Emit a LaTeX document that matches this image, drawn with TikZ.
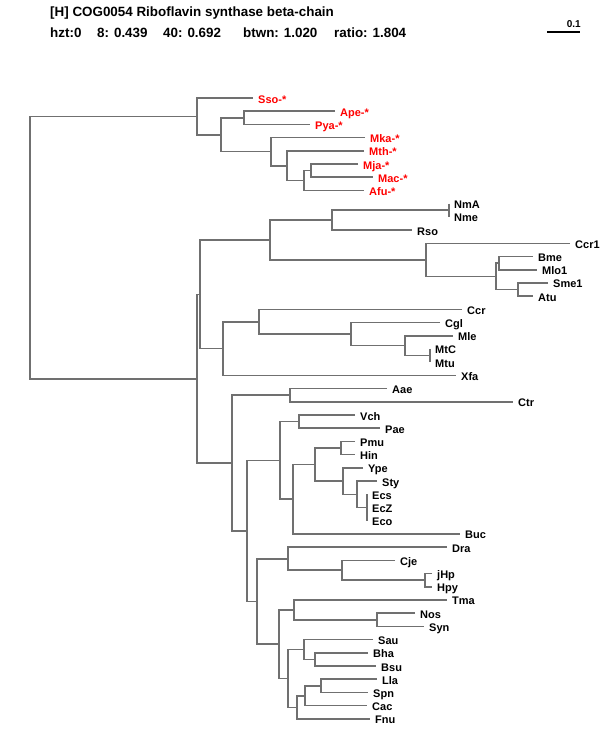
\documentclass[tikz,border=0pt]{standalone}
\usepackage{fontspec}
\setmainfont{Liberation Sans}
\usepackage{tikz}
\usepackage{xcolor}
\definecolor{treegray}{RGB}{112,112,112}
\definecolor{archred}{RGB}{255,0,0}

\begin{document}
\begin{tikzpicture}[
            x=1pt, y=-1pt,
            branch/.style={draw=treegray, line width=1.6pt},
            leaf/.style={anchor=base west, inner sep=0pt, xshift=5pt, yshift=-5pt,
                font=\fontsize{11}{12}\selectfont\bfseries},
            arch/.style={text=archred},
            head/.style={anchor=west, inner sep=0pt, font=\fontsize{13.4}{15}\selectfont\bfseries},
        ]
            \useasboundingbox (0,0) rectangle (600,750);

            % heading and scale bar
            \node[head] (title) at (50,13) {[H] COG0054 Riboflavin synthase beta-chain};
            \node[head] (hzt) at (50,33) {hzt:0};
            \node[head] (sc8) at (97,33) {8: 0.439};
            \node[head] (sc40) at (163,33) {40: 0.692};
            \node[head] (btwn) at (243,33) {btwn: 1.020};
            \node[head] (ratio) at (334,33) {ratio: 1.804};
            \coordinate (barL) at (547,32);
            \coordinate (barR) at (580,32);
            \draw[line width=1.2pt] (barL) -- (barR);
            \node[inner sep=0pt, anchor=south east, font=\fontsize{10}{12}\selectfont\bfseries] (barlab) at (581,28) {0.1};

            \begin{scope}[shift={(0,98)}, y=-13.21pt]
            % leaves (x = branch end, y = row)
            \coordinate (Sso) at (253,0);  \node[leaf,arch] (lSso) at (Sso) {Sso-*};
            \coordinate (Ape) at (335,1);  \node[leaf,arch] (lApe) at (Ape) {Ape-*};
            \coordinate (Pya) at (310,2);  \node[leaf,arch] (lPya) at (Pya) {Pya-*};
            \coordinate (Mka) at (365,3);  \node[leaf,arch] (lMka) at (Mka) {Mka-*};
            \coordinate (Mth) at (364,4);  \node[leaf,arch] (lMth) at (Mth) {Mth-*};
            \coordinate (Mja) at (358,5);  \node[leaf,arch] (lMja) at (Mja) {Mja-*};
            \coordinate (Mac) at (373,6);  \node[leaf,arch] (lMac) at (Mac) {Mac-*};
            \coordinate (Afu) at (364,7);  \node[leaf,arch] (lAfu) at (Afu) {Afu-*};
            \coordinate (NmA) at (449,8);  \node[leaf] (lNmA) at (NmA) {NmA};
            \coordinate (Nme) at (449,9);  \node[leaf] (lNme) at (Nme) {Nme};
            \coordinate (Rso) at (412,10); \node[leaf] (lRso) at (Rso) {Rso};
            \coordinate (Ccr1) at (570,11); \node[leaf] (lCcr1) at (Ccr1) {Ccr1};
            \coordinate (Bme) at (533,12); \node[leaf] (lBme) at (Bme) {Bme};
            \coordinate (Mlo1) at (537,13); \node[leaf] (lMlo1) at (Mlo1) {Mlo1};
            \coordinate (Sme1) at (548,14); \node[leaf] (lSme1) at (Sme1) {Sme1};
            \coordinate (Atu) at (533,15); \node[leaf] (lAtu) at (Atu) {Atu};
            \coordinate (Ccr) at (462,16); \node[leaf] (lCcr) at (Ccr) {Ccr};
            \coordinate (Cgl) at (440,17); \node[leaf] (lCgl) at (Cgl) {Cgl};
            \coordinate (Mle) at (453,18); \node[leaf] (lMle) at (Mle) {Mle};
            \coordinate (MtC) at (430,19); \node[leaf] (lMtC) at (MtC) {MtC};
            \coordinate (Mtu) at (430,20); \node[leaf] (lMtu) at (Mtu) {Mtu};
            \coordinate (Xfa) at (456,21); \node[leaf] (lXfa) at (Xfa) {Xfa};
            \coordinate (Aae) at (387,22); \node[leaf] (lAae) at (Aae) {Aae};
            \coordinate (Ctr) at (513,23); \node[leaf] (lCtr) at (Ctr) {Ctr};
            \coordinate (Vch) at (355,24); \node[leaf] (lVch) at (Vch) {Vch};
            \coordinate (Pae) at (380,25); \node[leaf] (lPae) at (Pae) {Pae};
            \coordinate (Pmu) at (355,26); \node[leaf] (lPmu) at (Pmu) {Pmu};
            \coordinate (Hin) at (355,27); \node[leaf] (lHin) at (Hin) {Hin};
            \coordinate (Ype) at (363,28); \node[leaf] (lYpe) at (Ype) {Ype};
            \coordinate (Sty) at (377,29); \node[leaf] (lSty) at (Sty) {Sty};
            \coordinate (Ecs) at (367,30); \node[leaf] (lEcs) at (Ecs) {Ecs};
            \coordinate (EcZ) at (367,31); \node[leaf] (lEcZ) at (EcZ) {EcZ};
            \coordinate (Eco) at (367,32); \node[leaf] (lEco) at (Eco) {Eco};
            \coordinate (Buc) at (460,33); \node[leaf] (lBuc) at (Buc) {Buc};
            \coordinate (Dra) at (447,34); \node[leaf] (lDra) at (Dra) {Dra};
            \coordinate (Cje) at (395,35); \node[leaf] (lCje) at (Cje) {Cje};
            \coordinate (jHp) at (432,36); \node[leaf] (ljHp) at (jHp) {jHp};
            \coordinate (Hpy) at (432,37); \node[leaf] (lHpy) at (Hpy) {Hpy};
            \coordinate (Tma) at (447,38); \node[leaf] (lTma) at (Tma) {Tma};
            \coordinate (Nos) at (415,39); \node[leaf] (lNos) at (Nos) {Nos};
            \coordinate (Syn) at (424,40); \node[leaf] (lSyn) at (Syn) {Syn};
            \coordinate (Sau) at (373,41); \node[leaf] (lSau) at (Sau) {Sau};
            \coordinate (Bha) at (368,42); \node[leaf] (lBha) at (Bha) {Bha};
            \coordinate (Bsu) at (376,43); \node[leaf] (lBsu) at (Bsu) {Bsu};
            \coordinate (Lla) at (377,44); \node[leaf] (lLla) at (Lla) {Lla};
            \coordinate (Spn) at (368,45); \node[leaf] (lSpn) at (Spn) {Spn};
            \coordinate (Cac) at (367,46); \node[leaf] (lCac) at (Cac) {Cac};
            \coordinate (Fnu) at (370,47); \node[leaf] (lFnu) at (Fnu) {Fnu};

            % archaea
            \coordinate (nMja) at (311,5.5);    \draw[branch] (Mja) -| (nMja) |- (Mac);
            \coordinate (nAfu) at (304,6.25);   \draw[branch] (nMja) -| (nAfu) |- (Afu);
            \coordinate (nMth) at (287,5.125);  \draw[branch] (Mth) -| (nMth) |- (nAfu);
            \coordinate (nMka) at (271,4.06);   \draw[branch] (Mka) -| (nMka) |- (nMth);
            \coordinate (nApe) at (244,1.5);    \draw[branch] (Ape) -| (nApe) |- (Pya);
            \coordinate (nArcB) at (221,2.78);  \draw[branch] (nApe) -| (nArcB) |- (nMka);
            \coordinate (nArc) at (197,1.39);   \draw[branch] (Sso) -| (nArc) |- (nArcB);

            % proteobacteria
            \coordinate (nNm) at (449,8.5);     \draw[branch] (NmA) -| (nNm) |- (Nme);
            \coordinate (nRso) at (332,9.25);   \draw[branch] (nNm) -| (nRso) |- (Rso);
            \coordinate (nBme) at (499,12.5);   \draw[branch] (Bme) -| (nBme) |- (Mlo1);
            \coordinate (nSme) at (518,14.5);   \draw[branch] (Sme1) -| (nSme) |- (Atu);
            \coordinate (nRhz) at (496,13.5);   \draw[branch] (nBme) -| (nRhz) |- (nSme);
            \coordinate (nCcr1) at (426,12.25); \draw[branch] (Ccr1) -| (nCcr1) |- (nRhz);
            \coordinate (nBeta) at (270,10.75); \draw[branch] (nRso) -| (nBeta) |- (nCcr1);
            \coordinate (nMt) at (430,19.5);    \draw[branch] (MtC) -| (nMt) |- (Mtu);
            \coordinate (nMle) at (405,18.75);  \draw[branch] (Mle) -| (nMle) |- (nMt);
            \coordinate (nCgl) at (351,17.875); \draw[branch] (Cgl) -| (nCgl) |- (nMle);
            \coordinate (nCcr) at (259,16.94);  \draw[branch] (Ccr) -| (nCcr) |- (nCgl);
            \coordinate (nXfa) at (223,18.97);  \draw[branch] (nCcr) -| (nXfa) |- (Xfa);
            \coordinate (nAlpha) at (200,14.86); \draw[branch] (nBeta) -| (nAlpha) |- (nXfa);
            \coordinate (nAae) at (290,22.5);   \draw[branch] (Aae) -| (nAae) |- (Ctr);
            \coordinate (nEco) at (367,31);     \draw[branch] (Ecs) -| (nEco) |- (Eco);
            \coordinate (nSty) at (357,30);     \draw[branch] (Sty) -| (nSty) |- (nEco);
            \coordinate (nYpe) at (343,29);     \draw[branch] (Ype) -| (nYpe) |- (nSty);
            \coordinate (nPmu) at (341,26.5);   \draw[branch] (Pmu) -| (nPmu) |- (Hin);
            \coordinate (nEnt) at (315,27.75);  \draw[branch] (nPmu) -| (nEnt) |- (nYpe);
            \coordinate (nBuc) at (293,30.375); \draw[branch] (nEnt) -| (nBuc) |- (Buc);
            \coordinate (nVch) at (299,24.5);   \draw[branch] (Vch) -| (nVch) |- (Pae);
            \coordinate (nGamma) at (280,27.44); \draw[branch] (nVch) -| (nGamma) |- (nBuc);

            % remaining bacteria
            \coordinate (nHp) at (425,36.5);    \draw[branch] (jHp) -| (nHp) |- (Hpy);
            \coordinate (nCje) at (342,35.75);  \draw[branch] (Cje) -| (nCje) |- (nHp);
            \coordinate (nDra) at (288,34.875); \draw[branch] (Dra) -| (nDra) |- (nCje);
            \coordinate (nNos) at (377,39.5);   \draw[branch] (Nos) -| (nNos) |- (Syn);
            \coordinate (nTma) at (294,38.75);  \draw[branch] (Tma) -| (nTma) |- (nNos);
            \coordinate (nBha) at (315,42.5);   \draw[branch] (Bha) -| (nBha) |- (Bsu);
            \coordinate (nSau) at (304,41.75);  \draw[branch] (Sau) -| (nSau) |- (nBha);
            \coordinate (nLla) at (321,44.5);   \draw[branch] (Lla) -| (nLla) |- (Spn);
            \coordinate (nCac) at (305,45.25);  \draw[branch] (nLla) -| (nCac) |- (Cac);
            \coordinate (nFnu) at (297,46.125); \draw[branch] (nCac) -| (nFnu) |- (Fnu);
            \coordinate (nFirm) at (288,43.94); \draw[branch] (nSau) -| (nFirm) |- (nFnu);
            \coordinate (nGram) at (279,41.34); \draw[branch] (nTma) -| (nGram) |- (nFirm);
            \coordinate (nBig) at (257,38.11);  \draw[branch] (nDra) -| (nBig) |- (nGram);
            \coordinate (nMid) at (247,32.77);  \draw[branch] (nGamma) -| (nMid) |- (nBig);
            \coordinate (nLow) at (232,27.64);  \draw[branch] (nAae) -| (nLow) |- (nMid);
            \coordinate (nBact) at (197,21.25); \draw[branch] (nAlpha) -| (nBact) |- (nLow);

            % root
            \coordinate (root) at (30,11.32);   \draw[branch] (nArc) -| (root) |- (nBact);
            \end{scope}
        \end{tikzpicture}
\end{document}
